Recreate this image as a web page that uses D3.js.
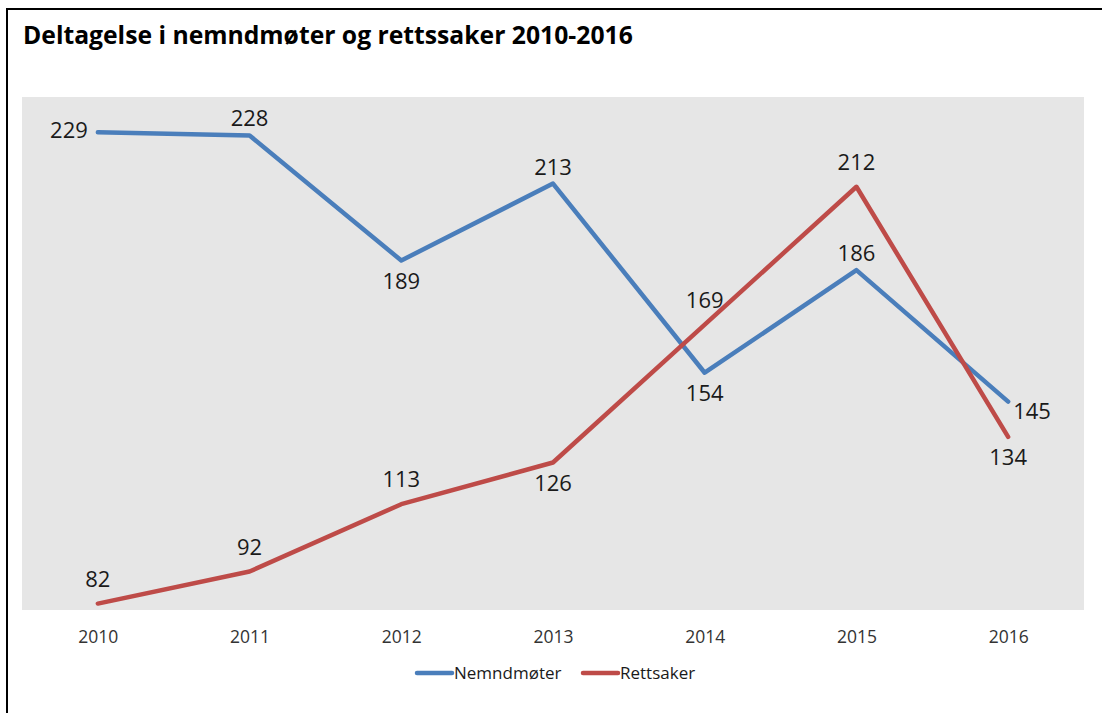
<!DOCTYPE html>
<html>
<head>
<meta charset="utf-8">
<script src="https://cdn.jsdelivr.net/npm/d3@7"></script>
<style>
  html, body { margin: 0; padding: 0; background: #fff; }
  svg { display: block; }
</style>
</head>
<body>
<svg id="chart" width="1105" height="713"></svg>
<script>
const title = "Deltagelse i nemndmøter og rettssaker 2010-2016";
const years = ["2010", "2011", "2012", "2013", "2014", "2015", "2016"];
const seriesNames = ["Nemndmøter", "Rettsaker"];
const nemndmoter = [229, 228, 189, 213, 154, 186, 145];
const rettsaker = [82, 92, 113, 126, 169, 212, 134];
const nemndLabelPos = ["left", "above", "below", "above", "below", "above", "right"];
const rettLabelPos = ["above", "above", "above", "below", "above", "above", "below"];
const colors = ["#4A7EBB", "#BE4B48"];

const svg = d3.select("#chart");
const FONT = "'Open Sans', sans-serif";

// outer frame (left + top)
svg.append("path")
  .attr("d", "M7,713 V9 H1102")
  .attr("fill", "none").attr("stroke", "#000").attr("stroke-width", 2);

// title, fitted to target width
const t = svg.append("text")
  .attr("x", 23).attr("y", 44)
  .attr("font-family", FONT).attr("font-weight", "bold")
  .attr("font-size", 22).attr("fill", "#000")
  .text(title);
const tw = t.node().getComputedTextLength();
t.attr("font-size", 22 * 610 / tw);

const plot = { left: 22, right: 1084, top: 97, bottom: 610 };

const x = d3.scalePoint().domain(years).range([plot.left, plot.right]).padding(0.5);
const y = d3.scaleLinear().domain([80, 240]).range([plot.bottom, plot.top]);

svg.append("rect")
  .attr("x", plot.left).attr("y", plot.top)
  .attr("width", plot.right - plot.left).attr("height", plot.bottom - plot.top)
  .attr("fill", "#e6e6e6");

// x axis labels
const xAxis = svg.append("g")
  .attr("transform", `translate(0,${plot.bottom})`)
  .call(d3.axisBottom(x).tickSize(0).tickPadding(21));
xAxis.select(".domain").remove();
xAxis.selectAll("text")
  .attr("font-family", FONT).attr("font-size", 17.5).attr("fill", "#333");

const series = [
  { name: seriesNames[0], values: nemndmoter, pos: nemndLabelPos, color: colors[0], above: 9 },
  { name: seriesNames[1], values: rettsaker, pos: rettLabelPos, color: colors[1], above: 17 }
];

const line = d3.line().x((d, i) => x(years[i])).y(d => y(d));

series.forEach(s => {
  svg.append("path")
    .datum(s.values)
    .attr("d", line)
    .attr("fill", "none")
    .attr("stroke", s.color)
    .attr("stroke-width", 4.5)
    .attr("stroke-linejoin", "round")
    .attr("stroke-linecap", "round");
});

series.forEach(s => {
  svg.append("g").selectAll("text")
    .data(s.values)
    .join("text")
    .attr("font-family", FONT).attr("font-size", 22).attr("fill", "#1a1a1a")
    .attr("text-anchor", (d, i) => s.pos[i] === "left" ? "end" : s.pos[i] === "right" ? "start" : "middle")
    .attr("x", (d, i) => {
      const px = x(years[i]);
      if (s.pos[i] === "left") return px - 10;
      if (s.pos[i] === "right") return px + 5;
      return px;
    })
    .attr("y", (d, i) => {
      const py = y(d);
      if (s.pos[i] === "above") return py - s.above;
      if (s.pos[i] === "below") return py + 28;
      if (s.pos[i] === "right") return py + 17;
      return py + 6;
    })
    .text(d => d);
});

// legend
const legendItems = [
  { name: seriesNames[0], color: colors[0], x: 417 },
  { name: seriesNames[1], color: colors[1], x: 583 }
];
const lg = svg.append("g");
legendItems.forEach(it => {
  lg.append("line")
    .attr("x1", it.x).attr("x2", it.x + 35)
    .attr("y1", 673).attr("y2", 673)
    .attr("stroke", it.color).attr("stroke-width", 4.5).attr("stroke-linecap", "round");
  lg.append("text")
    .attr("x", it.x + 37).attr("y", 679)
    .attr("font-family", FONT).attr("font-size", 17).attr("fill", "#1a1a1a")
    .text(it.name);
});
</script>
</body>
</html>
